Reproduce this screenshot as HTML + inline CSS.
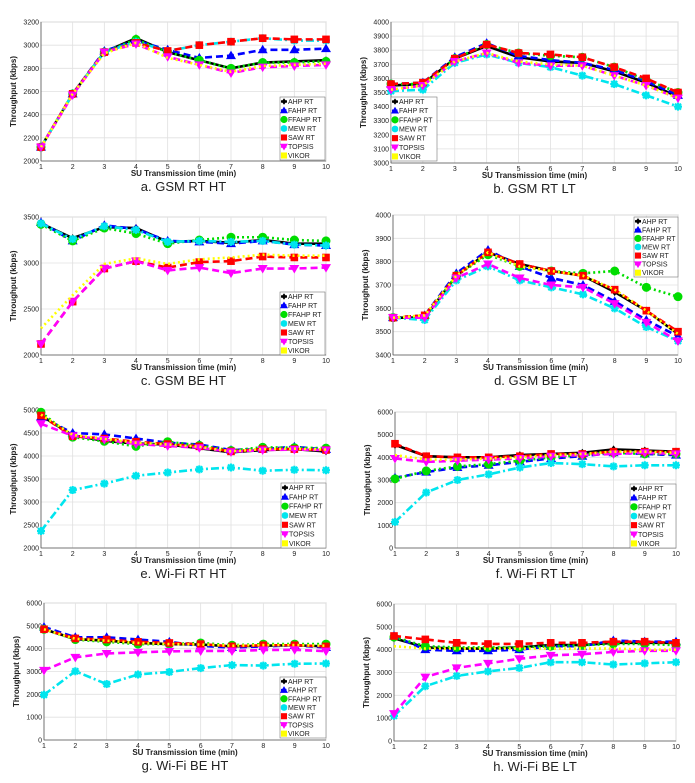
<!DOCTYPE html>
<html><head><meta charset="utf-8">
<style>
body{margin:0;background:#fff;width:695px;height:783px;overflow:hidden;font-family:"Liberation Sans",Arial,sans-serif}
svg{display:block}
</style></head>
<body>
<svg id="fig" width="695" height="783" viewBox="0 0 695 783" xmlns="http://www.w3.org/2000/svg"></svg>
<script>
const categories=[1,2,3,4,5,6,7,8,9,10];
const seriesNames=["AHP RT","FAHP RT","FFAHP RT","MEW RT","SAW RT","TOPSIS","VIKOR"];
// a. GSM RT HT
const a_AHP=[2120,2580,2940,3060,2940,2870,2800,2850,2860,2870];
const a_FAHP=[2120,2580,2950,3040,2960,2890,2910,2960,2960,2970];
const a_FFAHP=[2120,2580,2940,3050,2940,2870,2800,2850,2850,2860];
const a_MEW=[2120,2580,2940,3030,2950,3000,3030,3060,3040,3040];
const a_SAW=[2120,2580,2940,3020,2950,3000,3030,3060,3050,3050];
const a_TOPSIS=[2120,2570,2940,3010,2900,2830,2760,2810,2820,2830];
const a_VIKOR=[2120,2580,2930,3020,2890,2830,2770,2820,2830,2840];
const a_ticks=[2000,2200,2400,2600,2800,3000,3200];
// b. GSM RT LT
const b_AHP=[3550,3560,3740,3830,3750,3720,3710,3650,3570,3470];
const b_FAHP=[3560,3570,3750,3850,3760,3730,3710,3660,3580,3480];
const b_FFAHP=[3560,3560,3740,3840,3780,3760,3750,3680,3590,3500];
const b_MEW=[3510,3520,3710,3770,3710,3680,3620,3560,3480,3400];
const b_SAW=[3560,3570,3740,3840,3780,3770,3750,3680,3600,3500];
const b_TOPSIS=[3520,3550,3720,3780,3710,3690,3690,3620,3550,3460];
const b_VIKOR=[3520,3550,3720,3780,3720,3700,3690,3620,3550,3460];
const b_ticks=[3000,3100,3200,3300,3400,3500,3600,3700,3800,3900,4000];
// c. GSM BE HT
const c_AHP=[3430,3270,3390,3380,3230,3240,3220,3250,3210,3210];
const c_FAHP=[3440,3240,3410,3370,3240,3230,3210,3240,3200,3190];
const c_FFAHP=[3420,3240,3380,3320,3210,3250,3280,3280,3250,3240];
const c_MEW=[3430,3260,3400,3360,3230,3240,3230,3240,3200,3190];
const c_SAW=[2120,2580,2940,3020,2950,3010,3020,3070,3060,3060];
const c_TOPSIS=[2120,2580,2940,3020,2920,2950,2890,2940,2940,2950];
const c_VIKOR=[2290,2650,2990,3050,2990,3040,3060,3090,3080,3080];
const c_ticks=[2000,2500,3000,3500];
// d. GSM BE LT
const d_AHP=[3560,3560,3740,3840,3790,3760,3740,3670,3590,3490];
const d_FAHP=[3560,3570,3750,3850,3780,3730,3700,3630,3550,3480];
const d_FFAHP=[3560,3560,3740,3830,3780,3760,3750,3760,3690,3650];
const d_MEW=[3560,3550,3720,3780,3720,3690,3660,3600,3520,3460];
const d_SAW=[3560,3570,3740,3840,3790,3760,3740,3680,3590,3500];
const d_TOPSIS=[3560,3560,3730,3790,3730,3700,3690,3620,3540,3460];
const d_VIKOR=[3560,3570,3740,3840,3780,3760,3740,3680,3590,3490];
const d_ticks=[3400,3500,3600,3700,3800,3900,4000];
// e. Wi-Fi RT HT
const e_AHP=[4880,4450,4330,4270,4250,4170,4080,4130,4150,4100];
const e_FAHP=[4850,4500,4470,4380,4290,4250,4130,4150,4200,4140];
const e_FFAHP=[4950,4410,4320,4210,4310,4230,4120,4190,4180,4170];
const e_MEW=[2370,3260,3400,3570,3640,3710,3750,3680,3700,3690];
const e_SAW=[4880,4430,4380,4310,4260,4210,4100,4150,4150,4130];
const e_TOPSIS=[4700,4440,4360,4260,4220,4180,4090,4130,4140,4130];
const e_VIKOR=[4900,4460,4370,4290,4250,4200,4100,4150,4160,4140];
const e_ticks=[2000,2500,3000,3500,4000,4500,5000];
// f. Wi-Fi RT LT
const f_AHP=[4550,4050,4000,4000,4100,4150,4200,4350,4300,4250];
const f_FAHP=[3100,3350,3550,3650,3800,3950,4050,4200,4150,4100];
const f_FFAHP=[3050,3400,3600,3700,3850,4000,4100,4200,4150,4150];
const f_MEW=[1150,2450,3000,3250,3550,3750,3700,3600,3650,3650];
const f_SAW=[4600,4050,4000,4000,4050,4150,4150,4250,4250,4250];
const f_TOPSIS=[3950,3800,3850,3900,3950,4050,4100,4150,4200,4150];
const f_VIKOR=[4100,3900,3900,3950,4000,4100,4150,4250,4250,4200];
const f_ticks=[0,1000,2000,3000,4000,5000,6000];
// g. Wi-Fi BE HT
const g_AHP=[4850,4420,4350,4250,4200,4180,4100,4130,4150,4100];
const g_FAHP=[4950,4500,4500,4400,4300,4120,4050,4100,4150,4050];
const g_FFAHP=[4850,4400,4300,4200,4200,4250,4150,4200,4200,4200];
const g_MEW=[1980,3010,2450,2870,2980,3150,3280,3260,3340,3350];
const g_SAW=[4850,4450,4400,4300,4250,4200,4100,4150,4150,4100];
const g_TOPSIS=[3050,3620,3790,3840,3880,3900,3900,3940,3950,3890];
const g_VIKOR=[4850,4430,4350,4250,4200,4180,4130,4160,4160,4130];
const g_ticks=[0,1000,2000,3000,4000,5000,6000];
// h. Wi-Fi BE LT
const h_AHP=[4500,4100,4050,4050,4100,4200,4200,4300,4300,4300];
const h_FAHP=[4600,4000,3950,3950,4000,4150,4150,4400,4350,4350];
const h_FFAHP=[4550,4150,4100,4100,4100,4150,4200,4250,4250,4200];
const h_MEW=[1100,2400,2850,3050,3200,3450,3450,3350,3400,3450];
const h_SAW=[4600,4450,4300,4250,4250,4300,4300,4350,4350,4300];
const h_TOPSIS=[1200,2800,3200,3400,3600,3750,3800,3900,3950,3950];
const h_VIKOR=[4150,4050,4050,4050,4050,4050,4050,4050,4000,4000];
const h_ticks=[0,1000,2000,3000,4000,5000,6000];

const NS="http://www.w3.org/2000/svg";
const svg=document.getElementById('fig');
function mk(tag,attrs,parent){const e=document.createElementNS(NS,tag);for(const k in attrs)e.setAttribute(k,attrs[k]);(parent||svg).appendChild(e);return e;}

const styles=[
 {c:"#000",d:"",m:"diamond"},
 {c:"#0000ff",d:"7,4",m:"tri"},
 {c:"#00dd00",d:"2,3",m:"circle"},
 {c:"#00e5ee",d:"8,3,2,3",m:"star"},
 {c:"#ff0000",d:"7,4",m:"square"},
 {c:"#ff00ff",d:"7,4",m:"tridown"},
 {c:"#ffff00",d:"2,3",m:"none"}
];

function marker(g,type,x,y,c,s){
 s=s||1;let e=null;
 if(type==="diamond") e=mk('path',{d:`M${x},${y-4*s}L${x+3*s},${y}L${x},${y+4*s}L${x-3*s},${y}Z`,fill:c},g);
 else if(type==="tri") e=mk('path',{d:`M${x},${y-5*s}L${x+5*s},${y+3.5*s}L${x-5*s},${y+3.5*s}Z`,fill:c},g);
 else if(type==="tridown") e=mk('path',{d:`M${x},${y+5*s}L${x+5*s},${y-3.5*s}L${x-5*s},${y-3.5*s}Z`,fill:c},g);
 else if(type==="circle") e=mk('circle',{cx:x,cy:y,r:4.5*s,fill:c},g);
 else if(type==="square") e=mk('rect',{x:x-3.8*s,y:y-3.8*s,width:7.6*s,height:7.6*s,fill:c},g);
 else if(type==="star") e=mk('path',{d:`M${x-4*s},${y}L${x+4*s},${y}M${x},${y-4*s}L${x},${y+4*s}M${x-3*s},${y-3*s}L${x+3*s},${y+3*s}M${x+3*s},${y-3*s}L${x-3*s},${y+3*s}`,stroke:c,'stroke-width':2.2},g);
 if(e){}
}

function panel(id,x0,x1,yT,yB,ticks,series,caption,legend){
 const g=mk('g',{});
 
 
 const ymin=ticks[0],ymax=ticks[ticks.length-1];
 const X=v=>x0+(v-1)/9*(x1-x0);
 const Y=v=>yB-(v-ymin)/(ymax-ymin)*(yB-yT);
 const bg=mk('rect',{x:x0,y:yT,width:x1-x0,height:yB-yT,fill:"#fff",stroke:"#c8c8c8","stroke-width":1},g);
 
 categories.forEach(c=>{
  const l=mk('line',{x1:X(c),x2:X(c),y1:yT,y2:yB,stroke:"#e0e0e0","stroke-width":0.8},g);
  
  const t=mk('text',{x:X(c),y:yB+8,'font-size':7,'text-anchor':'middle',fill:'#222'},g);t.textContent=c;
  
 });
 ticks.forEach(v=>{
  const l=mk('line',{x1:x0,x2:x1,y1:Y(v),y2:Y(v),stroke:"#e0e0e0","stroke-width":0.8},g);
  
  const t=mk('text',{x:x0-2,y:Y(v)+2.5,'font-size':7,'text-anchor':'end',fill:'#222'},g);t.textContent=v;
  
 });
 mk('line',{x1:x0,x2:x0,y1:yT,y2:yB,stroke:"#555","stroke-width":0.8},g);
 mk('line',{x1:x0,x2:x1,y1:yB,y2:yB,stroke:"#555","stroke-width":0.8},g);
 const yl=mk('text',{x:0,y:0,'font-size':8,'font-weight':'bold','text-anchor':'middle',fill:'#222',transform:`translate(${x0-25},${(yT+yB)/2}) rotate(-90)`},g);
 yl.textContent="Throughput (kbps)";
 
 const xl=mk('text',{x:(x0+x1)/2,y:yB+15,'font-size':8,'font-weight':'bold','text-anchor':'middle',fill:'#222'},g);
 xl.textContent="SU Transmission time (min)";
 
 const cp=mk('text',{x:(x0+x1)/2,y:yB+30,'font-size':13,'text-anchor':'middle',fill:'#222'},g);
 cp.textContent=caption;
 
 series.forEach((vals,i)=>{
  const s=styles[i];
  const pts=vals.map((v,j)=>X(categories[j])+","+Y(v)).join(" ");
  const pl=mk('polyline',{points:pts,fill:"none",stroke:s.c,"stroke-width":2.6,"stroke-dasharray":s.d},g);
  
  
  vals.forEach((v,j)=>marker(g,s.m,X(categories[j]),Y(v),s.c,1));
 });
 if(legend){
  const [lx,ly,lw,lh]=legend;
  const lg=mk('g',{},g);
  
  mk('rect',{x:lx,y:ly,width:lw,height:lh,fill:'#fff',stroke:'#777','stroke-width':0.6},lg);
  const rh=lh/7;
  seriesNames.forEach((n,i)=>{
   const s=styles[i];const cy=ly+rh*(i+0.5);
   const e=mk('g',{},lg);
   
   mk('line',{x1:lx+1,x2:lx+7,y1:cy,y2:cy,stroke:s.c,'stroke-width':2.4,'stroke-dasharray':s.d?"2,1.5":""},e);
   marker(e,s.m==="none"?"square":s.m,lx+4,cy,s.m==="none"?"#ffff00":s.c,0.8);
   const t=mk('text',{x:lx+8,y:cy+2.5,'font-size':7,fill:'#222'},e);t.textContent=n;
  });
 }
}

panel('a',41,326,22,161,a_ticks,[a_AHP,a_FAHP,a_FFAHP,a_MEW,a_SAW,a_TOPSIS,a_VIKOR],"a. GSM RT HT",[280,97,45,63]);
panel('b',391,678,22,163,b_ticks,[b_AHP,b_FAHP,b_FFAHP,b_MEW,b_SAW,b_TOPSIS,b_VIKOR],"b. GSM RT LT",[391,97,46,64]);
panel('c',41,326,217,355,c_ticks,[c_AHP,c_FAHP,c_FFAHP,c_MEW,c_SAW,c_TOPSIS,c_VIKOR],"c. GSM BE HT",[280,292,45,63]);
panel('d',393,678,215,355,d_ticks,[d_AHP,d_FAHP,d_FFAHP,d_MEW,d_SAW,d_TOPSIS,d_VIKOR],"d. GSM BE LT",[634,217,44,60]);
panel('e',41,326,410,548,e_ticks,[e_AHP,e_FAHP,e_FFAHP,e_MEW,e_SAW,e_TOPSIS,e_VIKOR],"e. Wi-Fi RT HT",[281,483,45,65]);
panel('f',395,676,412,548,f_ticks,[f_AHP,f_FAHP,f_FFAHP,f_MEW,f_SAW,f_TOPSIS,f_VIKOR],"f. Wi-Fi RT LT",[630,484,46,64]);
panel('g',44,326,603,740,g_ticks,[g_AHP,g_FAHP,g_FFAHP,g_MEW,g_SAW,g_TOPSIS,g_VIKOR],"g. Wi-Fi BE HT",[280,677,46,61]);
panel('h',394,676,604,741,h_ticks,[h_AHP,h_FAHP,h_FFAHP,h_MEW,h_SAW,h_TOPSIS,h_VIKOR],"h. Wi-Fi BE LT",null);
</script>
</body></html>
